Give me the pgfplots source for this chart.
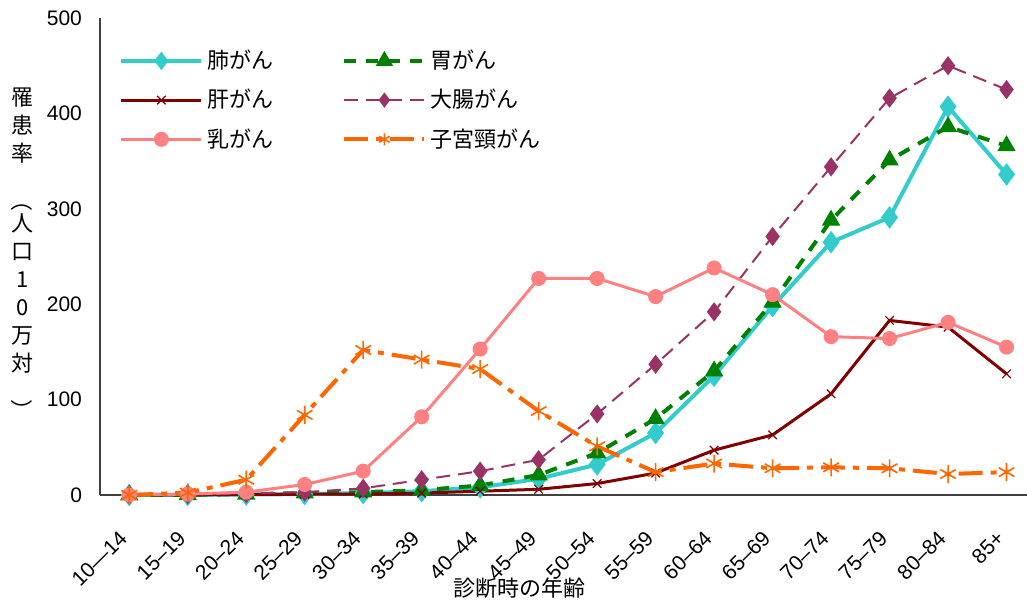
\documentclass[border=0pt]{standalone}
\usepackage{fontspec}
\setmainfont{Liberation Sans}
\newfontfamily\cjk{Noto Sans CJK JP}
\usepackage{graphicx}
\usepackage{pgfplots}
\pgfplotsset{compat=1.18}
\usepackage{pgfplotstable}

\definecolor{lung}{HTML}{33CCCC}
\definecolor{stomach}{HTML}{008000}
\definecolor{liver}{HTML}{800000}
\definecolor{colon}{HTML}{993366}
\definecolor{breast}{HTML}{FF8080}
\definecolor{cervix}{HTML}{FF6600}

% incidence per 100,000 by age group (0 = 10-14 ... 15 = 85+)
\pgfplotstableread{
idx lung stomach liver colon breast cervix
0   0    0    0    0    0    0
1   0.1  0.2  0.2  0.5  1    2.5
2   0.5  0.8  0.5  1.5  3    16
3   1    2    0.8  3    11   84
4   2    3    1    7    25   152
5   4    5    2    16   82   142
6   8    10   4    25   153  132
7   17   21   6    37   227  88
8   32   44   12   85   227  51
9   65   80   23   137  208  24
10  125  130  47   192  238  33
11  198  202  63   271  210  28
12  265  288  106  344  166  29
13  291  351  183  416  164  28
14  407  386  176  450  181  22
15  336  366  127  425  155  24
}\incidence

\begin{document}
\begin{tikzpicture}
\useasboundingbox (-50pt,-53pt) rectangle (463.5pt,247.5pt);
\begin{axis}[
    scale only axis,
    width=463.5pt, height=238.5pt,
    xmin=-0.5, xmax=15.35,
    ymin=0, ymax=500,
    axis lines=left,
    axis line style={-, black!75, line width=1pt},
    major tick length=0pt,
    ytick={0,100,...,500},
    xtick={0,...,15},
    xticklabels={10—14,15–19,20–24,25–29,30–34,35–39,40–44,45–49,50–54,55–59,60–64,65–69,70–74,75–79,80–84,85+},
    /pgf/number format/assume math mode=true,
    yticklabel style={font=\fontsize{10.5}{12}\selectfont, xshift=-5.5pt},
    xticklabel style={font=\fontsize{10.5}{12}\selectfont, rotate=45, anchor=north east, inner sep=0pt, xshift=-16pt, yshift=-8pt},
    xlabel={診断時の年齢},
    xlabel style={font=\cjk\fontsize{11}{13}\selectfont, at={(axis description cs:0.453,-0.196)}, anchor=center},
    ylabel={罹\\患\\率\\\rotatebox{-90}{（}\\人\\口\\1\\0\\万\\対\\\rotatebox{-90}{）}},
    ylabel style={rotate=-90, align=center, at={(axis description cs:-0.084,0.503)}, anchor=center, font=\cjk\fontsize{11}{14}\selectfont},
    clip=false,
    legend columns=2,
    legend cell align=left,
    legend style={at={(axis description cs:0.0205,0.942)}, anchor=north west,
        draw=none, fill=none, inner sep=0pt, row sep=4.8pt,
        font=\cjk\fontsize{11}{13}\selectfont,
        /tikz/every even column/.append style={column sep=32.5pt}},
    legend image code/.code={\draw[mark repeat=2, mark phase=2, mark size=3pt] plot coordinates {(0pt,0pt) (20pt,0pt) (40pt,0pt)};},
]
\addplot[color=lung, line width=2pt, mark=diamond*, mark size=4pt, mark options={solid, fill=lung}]
    table[x=idx, y=lung]{\incidence};
\addlegendentry{肺がん}
\addplot[color=stomach, line width=2pt, dash pattern=on 6pt off 5pt, mark=triangle*, mark size=3.3pt, mark options={solid, fill=stomach}]
    table[x=idx, y=stomach]{\incidence};
\addlegendentry{胃がん}
\addplot[color=liver, line width=1.5pt, mark=x, mark size=3pt, mark options={solid, line width=0.6pt}]
    table[x=idx, y=liver]{\incidence};
\addlegendentry{肝がん}
\addplot[color=colon, line width=1pt, dash pattern=on 7pt off 4pt, mark=diamond*, mark size=4pt, mark options={solid, fill=colon}]
    table[x=idx, y=colon]{\incidence};
\addlegendentry{大腸がん}
\addplot[color=breast, line width=1.5pt, mark=*, mark size=3pt, mark options={solid, fill=breast}]
    table[x=idx, y=breast]{\incidence};
\addlegendentry{乳がん}
\addplot[color=cervix, line width=2pt, dash pattern=on 12pt off 4pt on 3pt off 4pt, mark=asterisk, mark size=4.5pt, mark options={solid, line width=0.8pt}]
    table[x=idx, y=cervix]{\incidence};
\addlegendentry{子宮頸がん}
\end{axis}
\end{tikzpicture}
\end{document}
